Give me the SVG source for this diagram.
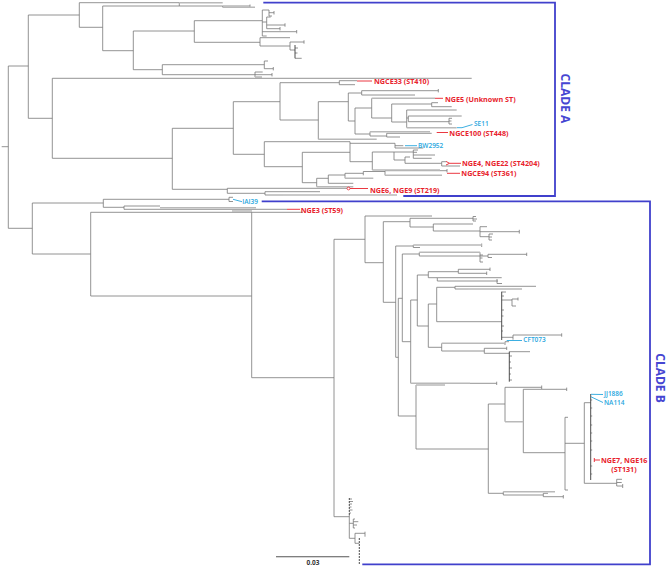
<svg xmlns="http://www.w3.org/2000/svg" width="669" height="568" viewBox="0 0 669 568">
<style>
.t{fill:none;stroke:#777;stroke-width:.8}
.g{fill:none;stroke:#b9b9b9;stroke-width:1.5}
.d{fill:none;stroke:#3a3a3a;stroke-width:.9}
.ds{fill:none;stroke:#3a3a3a;stroke-width:.9;stroke-dasharray:2 1}
.br{fill:none;stroke:#4040cc;stroke-width:1.8}
.r{fill:none;stroke:#e8232d;stroke-width:.9}
.c{fill:none;stroke:#27a6de;stroke-width:.9}
.lr{font-family:"Open Sans","Liberation Sans",sans-serif;font-size:7.2px;font-weight:700;fill:#e8232d}
.lc{font-family:"Open Sans","Liberation Sans",sans-serif;font-size:6.5px;font-weight:600;fill:#27a6de}
.cl{font-family:"Open Sans","Liberation Sans",sans-serif;font-size:12px;font-weight:700;fill:#4646d2}
.sc{font-family:"Open Sans","Liberation Sans",sans-serif;font-size:6.5px;font-weight:700;fill:#333}
</style>
<rect width="669" height="568" fill="#fff"/>
<g id="connectors">
<path class="t" d="M1.7,146.7H8.3M8.3,66V228.3M8.3,66H28.3M28.3,15V118.3M28.3,15H79.3M79.3,2.7V27.3M79.3,2.7H179.3M179.3,2.7V6M179.3,6H222.7V7.3M222.7,6H250M250,4.5V7.5M79.3,27.3H102.7M102.7,6V50.7M102.7,6H179.3M102.7,50.7H133.3M133.3,31V69.7M133.3,31H194.3M194.3,20.7V42.3M194.3,20.7H262.3M262.3,10V36M262.3,10H269M269,10V16M269,12.7H274M274,11V14.5M269,16H272M262.3,22H266.7M266.7,17V28.7M266.7,17H270.7M266.7,25H285M285,23.3V26.7M266.7,28.7H280M280,27V30.4M262.3,31.7H296.7M296.7,30V33.4M262.3,36H266.7M194.3,42.3H260M260,37.7V46M260,37.7H290M260,46H290M290,42V50M290,42H304M304,40.3V43.7M290,50H295M295,48H298M295,53H297.5M295,58.3H301.7M133.3,69.7H162.3M162.3,64.7V74.7M162.3,64.7H264.3M264.3,61V68.7M264.3,61H268M264.3,68.7H273.3M273.3,67V70.4M162.3,74.7H255M255,72V77M255,72H262.7M255,74.7H272M272,73V76.4"/>
<path class="g" d="M179.3,2.7H222.7M222.7,7.3H255M255,77H262"/>
<path class="d" d="M295,45V58.3"/>
<path class="t" d="M28.3,118.3H52.3M52.3,78.3V158.3M52.3,78.3H471.7M52.3,158.3H172.3M172.3,128.3V189.3M172.3,128.3H233.3M233.3,101.7V154.3M233.3,101.7H280M280,82.7V120M280,82.7H339.3M339.3,80.7V84.7M339.3,80.7H357M339.3,84.7H355M280,120H318.3M318.3,101.7V139.3M318.3,101.7H348.3M348.3,93V121M348.3,93H361.7M361.7,90.7V95M361.7,90.7H438.3M438.3,89V92.4M361.7,95H415M348.3,121H355M355,108V134M355,108H371.7M371.7,98.3V118M371.7,118H391.7M391.7,104V122M391.7,104H431.7M431.7,102.7V106.7M431.7,102.7H438M431.7,106.7H451.7M391.7,122H406.7M406.7,110V127.7M406.7,110H456.7M406.7,118H408.3M408.3,116V121.7M408.3,116H461.7M408.3,121.7H449M449,118.3V124M449,118.3H452M449,121H451.5M449,124H452M355,134H370M370,131.7V136M370,136H386.7M386.7,133.3V137M386.7,133.3H431.7M386.7,137H400"/>
<path class="g" d="M318.3,139.3H376.7M371.7,98.3H435M406.7,127.7H456.7M370,131.7H430"/>
<path class="t" d="M233.3,154.3H264.3M264.3,141.7V166.7M264.3,141.7H350M350,141.7V161.7M350,143.3H395M395,143.3V148M395,145.7H403.3M395,148H423.3M350,161.7H372.3M372.3,152V170M372.3,152H394M394,152V160M394,152H413.3M413.3,150V158.3M413.3,150H418M413.3,152.3H417M413.3,155H435M413.3,158.3H431.7M394,160H405M405,157V163.3M405,157H410M405,163.3H441.7M441.7,161.7V166M441.7,161.7H446M441.7,166H460M264.3,166.7H302.3M302.3,152.3V182.7M302.3,152.3H350M302.3,182.7H316.7M316.7,178.3V186.7M316.7,178.3H328.3M328.3,175V183.3M328.3,175H345M345,173.3V178.3M345,173.3H363.3M363.3,171.5V175.3M363.3,171.5H385M385,170.7V175.3M385,170.7H447M447,169V172.4M328.3,183.3H353.3M172.3,189.3H227.3M227.3,188.3V193.3M227.3,188.3H347M227.3,193.3H265M265,191.7V195M265,191.7H320M265,195H283"/>
<path class="g" d="M372.3,170H440M385,175.3H442M345,178.3H373.3M316.7,186.7H353.3M283,195H397"/>
<path class="t" d="M8.3,228.3H32.3M32.3,203V254M32.3,203H103.3M103.3,199.3V207.3M103.3,199.3H229M229,197.3V201.5M229,197.3H233M229,201.5H233M103.3,207.3H124M124,206V209.3M124,206H160M124,209.3H287M32.3,254H90.7M90.7,212.3V296M90.7,212.3H303M90.7,296H251.7M251.7,212.3V377.7M251.7,377.7H334M334,239.3V516.7"/>
<path class="g" d="M160,207.8H256M232,211H252"/>
<path class="t" d="M334,239.3H365M365,216V262.7M365,216H432M365,262.7H383.3M383.3,221.7V302.3M383.3,221.7H410M410,218.3V227M410,218.3H473M473,216.5V221M473,216.5H476M473,219H477M473,221H476M410,227H433.3M433.3,224V231M433.3,224H473M433.3,231H480M480,226.7V236.7M480,226.7H487M480,231.7H519.3M519.3,229.8V233.6M480,236.7H489M489,234V240M489,234H493M489,237H492M489,240H492M383.3,302.3H395.7M395.7,246V357.3M395.7,246H413.3M413.3,245V247.5M481.7,243.5V247M413.3,247.5H420M395.7,357.3H398.3M398.3,298.3V416M398.3,298.3H402.3M402.3,254V341.7M402.3,254H419.3M419.3,252.3V256M480,252.3V262M480,255H483M480,258H482.5M480,262H483M419.3,256H488M488,254.3V257.5M488,254.3H526.7M526.7,252.7V256M488,257.5H492M402.3,341.7H410.7M410.7,300V383.3M410.7,300H417.3M417.3,275V326M417.3,275H428.3M428.3,271.7V277.7M428.3,271.7H458.3M458.3,269.3V273.3M458.3,269.3H490M490,267.6V271M458.3,273.3H486.7M486.7,271.6V275M428.3,277.7H437.3M437.3,277.7V281M437.3,277.7H501.7M437.3,281H498M497,279V283.5M497,283.5H502M417.3,326H428.3M428.3,304V347.3M428.3,304H436.7M436.7,287.3V321.7M436.7,287.3H455M455,286.3V289M455,286.3H536M455,289H468M436.7,321.7H501.7M501.7,292H506M501.7,296H504M501.7,300H512M512,299V306M512,299H518M518,297.5V300.5M512,306H516M501.7,310H504M501.7,316H503.5M501.7,326H504M501.7,331H503M501.7,337.3H513M513,335V339.7M513,335H561.7M561.7,333.3V336.7M428.3,347.3H441.7M441.7,343.3V351M505,341.7V345M505,341.7H509M441.7,351H484.3M484.3,348.3V353.3M484.3,348.3H506.7M506.7,346.7V350M484.3,353.3H509.3M509.3,351.7H530M509.3,356H512M509.3,362H511M509.3,368H512M509.3,374H511M509.3,380H512M470,383.3H496.7M496.7,381.7V385M398.3,416H416M416,385V449M416,449H488.3M488.3,404V493.3M488.3,404H505M505,387.3V421.7M505,387.3H541.7M541.7,385.5V389M523.3,389.3V452.7M523.3,389.3H566.7M566.7,387.6V391M523.3,452.7H565M565,417.3V490M565,417.3H568M565,490H568M565,443.3H584.3M584.3,402.7V483.3M584.3,402.7H590.7M590.7,400H592.2M590.7,408H592.2M590.7,416H592.2M590.7,425H592.2M590.7,433H592.2M590.7,441H592.2M590.7,450H592.2M590.7,466H592.2M590.7,474H592.2M584.3,483.3H616.7M616.7,479.3V486M616.7,479.3H622M616.7,482.5H621.7M616.7,486H622.7M622.7,484V488M488.3,493.3H503.3M503.3,491.7V495M503.3,495H543.3M543.3,493.3V496.7M543.3,493.3H548M543.3,496.7H563.3M563.3,495V498.5"/>
<path class="g" d="M413.3,245H481.7M419.3,252.3H480M468,289H522M441.7,343.3H505M410.7,383.3H470M416,385H445M505,421.7H523.3M503.3,491.7H555"/>
<path class="d" d="M501.7,291.7V340M509.3,351.7V381.7M590.7,394V480"/>
<path class="t" d="M334,516.7H349.3M349.3,499H352M349.3,501.5H353M349.3,504H352M349.3,507H351.5M349.3,510H352.5M349.3,513H351M349.3,523.3H353.3M353.3,519V528M353.3,519H355M353.3,521.7H358.3M353.3,525H357M353.3,528H355M349.3,538.3H355M355,533.3V543.3M355,533.3H365M365,531.7V536.7M355,543.3H359.3M349.3,515V538.3"/>
<path class="ds" d="M349.3,498V515M359.3,538V565"/>
</g>
<g id="clade-a">
<path class="br" d="M263.3,2.7H555V196H403.3"/>
<text class="cl" transform="translate(561,98.4) rotate(90)" text-anchor="middle">CLADE A</text>
</g>
<g id="clade-b">
<path class="br" d="M261.7,201.3H650V564.3H362.3"/>
<text class="cl" transform="translate(656,378) rotate(90)" text-anchor="middle">CLADE B</text>
</g>
<g id="NGCE33"><path class="r" d="M357,81H372"/><text class="lr" x="374" y="84.3">NGCE33 (ST410)</text></g>
<g id="NGE5"><path class="r" d="M435,98.3H443"/><text class="lr" x="445" y="101.6">NGE5 (Unknown ST)</text></g>
<g id="SE11"><path class="c" d="M457,127.7L462,127.7L472.5,124.5"/><text class="lc" x="474" y="126.4">SE11</text></g>
<g id="NGCE100"><path class="r" d="M436.7,132.5H448"/><text class="lr" x="449.3" y="136">NGCE100 (ST448)</text></g>
<g id="BW2952"><path class="c" d="M405,145.7H417"/><text class="lc" x="418" y="148">BW2952</text></g>
<g id="NGE4-NGE22"><path class="r" d="M446,161.4L449.5,163.3L446,165M449.5,163.3H461"/><text class="lr" x="462" y="165.6">NGE4, NGE22 (ST4204)</text></g>
<g id="NGCE94"><path class="r" d="M447,173.3H460"/><text class="lr" x="461.3" y="176">NGCE94 (ST361)</text></g>
<g id="NGE6-NGE9"><circle cx="348.5" cy="188.5" r="1.4" fill="none" stroke="#e8232d" stroke-width=".8"/><path class="r" d="M350,188.5H368"/><text class="lr" x="370" y="193">NGE6, NGE9 (ST219)</text></g>
<g id="IAI39"><path class="c" d="M233,199.3L242,201.7"/><text class="lc" x="242.3" y="204">IAI39</text></g>
<g id="NGE3"><path class="r" d="M287,209.3H300"/><text class="lr" x="300.7" y="212.9">NGE3 (ST59)</text></g>
<g id="CFT073"><path class="c" d="M506.7,340.5H522"/><text class="lc" x="523.3" y="342.3">CFT073</text></g>
<g id="JJ1886"><path class="c" d="M591,394.3L603,394.5"/><text class="lc" x="604" y="396.3">JJ1886</text></g>
<g id="NA114"><path class="c" d="M591,396.8L603,402.5"/><text class="lc" x="604" y="405">NA114</text></g>
<g id="NGE7-NGE16"><path class="r" d="M594.3,458V462M594.3,460H600"/><text class="lr" x="601" y="462.6">NGE7, NGE16</text><text class="lr" x="624" y="472" text-anchor="middle">(ST131)</text></g>
<g id="scale-bar"><path d="M276,556.7H349.3" stroke="#555" stroke-width="1.1" fill="none"/><text class="sc" x="313" y="565" text-anchor="middle">0.03</text></g>
</svg>
